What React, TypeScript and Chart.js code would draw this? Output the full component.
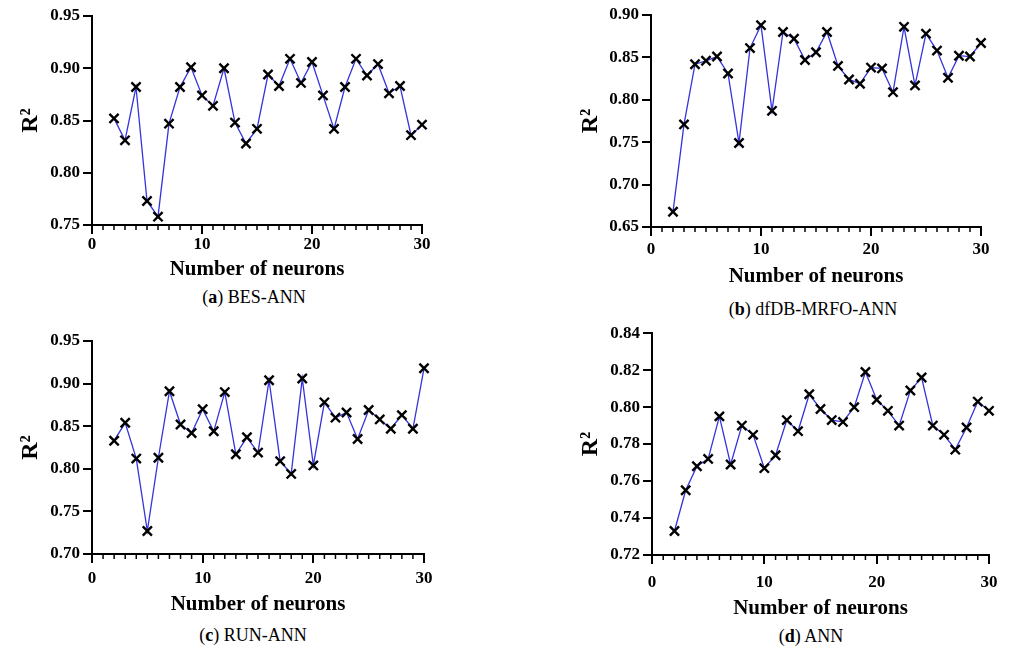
import React, { useEffect, useRef } from "react";
import { Chart, registerables } from "chart.js";

Chart.register(...registerables);

// ---------- data ----------
const neurons = [2, 3, 4, 5, 6, 7, 8, 9, 10, 11, 12, 13, 14, 15, 16, 17, 18, 19, 20, 21, 22, 23, 24, 25, 26, 27, 28, 29, 30];

const besAnnR2 = [0.852, 0.831, 0.882, 0.773, 0.758, 0.847, 0.882, 0.901, 0.874, 0.864, 0.900, 0.848, 0.828, 0.842, 0.894, 0.883, 0.909, 0.886, 0.906, 0.874, 0.842, 0.882, 0.909, 0.893, 0.904, 0.876, 0.883, 0.836, 0.846];
const dfdbMrfoAnnR2 = [0.668, 0.771, 0.842, 0.846, 0.851, 0.831, 0.749, 0.861, 0.888, 0.787, 0.880, 0.872, 0.847, 0.856, 0.880, 0.840, 0.824, 0.819, 0.838, 0.837, 0.809, 0.886, 0.817, 0.878, 0.858, 0.826, 0.852, 0.851, 0.867];
const runAnnR2 = [0.833, 0.854, 0.812, 0.727, 0.813, 0.891, 0.852, 0.842, 0.870, 0.844, 0.890, 0.817, 0.837, 0.819, 0.904, 0.809, 0.794, 0.906, 0.804, 0.878, 0.860, 0.866, 0.835, 0.869, 0.858, 0.847, 0.863, 0.847, 0.918];
const annR2 = [0.733, 0.755, 0.768, 0.772, 0.795, 0.769, 0.790, 0.785, 0.767, 0.774, 0.793, 0.787, 0.807, 0.799, 0.793, 0.792, 0.800, 0.819, 0.804, 0.798, 0.790, 0.809, 0.816, 0.790, 0.785, 0.777, 0.789, 0.803, 0.798];

const xTicks = [0, 10, 20, 30];
const minorStep = 1;
const besAnnYTicks = [0.75, 0.8, 0.85, 0.9, 0.95];
const dfdbYTicks = [0.65, 0.7, 0.75, 0.8, 0.85, 0.9];
const runYTicks = [0.7, 0.75, 0.8, 0.85, 0.9, 0.95];
const annYTicks = [0.72, 0.74, 0.76, 0.78, 0.8, 0.82, 0.84];

const xTitle = "Number of neurons";
const yTitle = "R²";

// ---------- layout ----------
const SERIF = "'Liberation Serif', 'Times New Roman', Times, serif";
const LINE_BLUE = "#3333dd";

type Area = { l: number; t: number; r: number; b: number };
type Panel = {
  letter: string;
  name: string;
  values: number[];
  yTicks: number[];
  canvasLeft: number;
  canvasTop: number;
  area: Area;
  labelPad: number;
  axisH: number;
  captionX: number;
  captionY: number;
};

const RIGHT_PAD = 20;

const panels: Panel[] = [
  { letter: "a", name: "BES-ANN", values: besAnnR2, yTicks: besAnnYTicks, canvasLeft: 0, canvasTop: 0, area: { l: 92, t: 16, r: 422, b: 225 }, labelPad: 0, axisH: 61, captionX: 254, captionY: 297 },
  { letter: "b", name: "dfDB-MRFO-ANN", values: dfdbMrfoAnnR2, yTicks: dfdbYTicks, canvasLeft: 560, canvasTop: 0, area: { l: 651, t: 15, r: 981, b: 227 }, labelPad: 3, axisH: 66, captionX: 813, captionY: 309 },
  { letter: "c", name: "RUN-ANN", values: runAnnR2, yTicks: runYTicks, canvasLeft: 0, canvasTop: 320, area: { l: 92, t: 341, r: 424, b: 554 }, labelPad: 5, axisH: 67, captionX: 253, captionY: 635 },
  { letter: "d", name: "ANN", values: annR2, yTicks: annYTicks, canvasLeft: 560, canvasTop: 320, area: { l: 652, t: 332, r: 989, b: 555 }, labelPad: 8, axisH: 70, captionX: 811, captionY: 636 },
];

const minorTicksPlugin = {
  id: "minorTicks",
  afterDraw(chart: any) {
    const xs = chart.scales.x;
    const ctx = chart.ctx;
    const y0 = chart.chartArea.bottom;
    ctx.save();
    ctx.strokeStyle = "#000";
    ctx.lineWidth = 1.5;
    for (let v = xs.min; v <= xs.max; v += minorStep) {
      if (xTicks.includes(v)) continue;
      const px = xs.getPixelForValue(v);
      ctx.beginPath();
      ctx.moveTo(px, y0);
      ctx.lineTo(px, y0 + 5);
      ctx.stroke();
    }
    ctx.restore();
  },
};

function PanelChart({ p }: { p: Panel }) {
  const ref = useRef<HTMLCanvasElement | null>(null);
  const width = p.area.r + RIGHT_PAD - p.canvasLeft;
  const height = p.area.b + p.axisH - p.canvasTop;

  useEffect(() => {
    if (!ref.current) return;
    const yMin = p.yTicks[0];
    const yMax = p.yTicks[p.yTicks.length - 1];
    const yStep = p.yTicks[1] - p.yTicks[0];
    const yAxisW = p.area.l - p.canvasLeft;
    const chart = new Chart(ref.current, {
      type: "line",
      data: {
        datasets: [
          {
            data: neurons.map((n, i) => ({ x: n, y: p.values[i] })),
            borderColor: LINE_BLUE,
            borderWidth: 1.3,
            tension: 0,
            pointStyle: "crossRot",
            pointRadius: 6.5,
            pointBorderColor: "#000",
            pointBackgroundColor: "#000",
            pointBorderWidth: 2.4,
            clip: false as any,
          },
        ],
      },
      options: {
        animation: false,
        responsive: false,
        devicePixelRatio: 1,
        layout: { padding: { left: 0, top: p.area.t - p.canvasTop, right: RIGHT_PAD, bottom: 0 } },
        plugins: { legend: { display: false }, tooltip: { enabled: false } },
        scales: {
          x: {
            type: "linear",
            min: xTicks[0],
            max: xTicks[xTicks.length - 1],
            ticks: {
              stepSize: xTicks[1] - xTicks[0],
              color: "#000",
              font: { family: SERIF, size: 17, weight: "bold" },
              padding: p.labelPad,
              maxRotation: 0,
              autoSkip: false,
            },
            grid: { drawOnChartArea: false, drawTicks: true, tickLength: 9, color: "#000", lineWidth: 2 },
            border: { display: true, color: "#000", width: 2 },
            title: { display: true, text: xTitle, color: "#000", font: { family: SERIF, size: 21, weight: "bold" }, padding: { top: 0, bottom: 4 } },
            afterFit: (s: any) => { s.height = p.axisH; },
          },
          y: {
            type: "linear",
            min: yMin,
            max: yMax,
            ticks: {
              stepSize: yStep,
              color: "#000",
              font: { family: SERIF, size: 17, weight: "bold" },
              padding: 3,
              callback: (v: any) => Number(v).toFixed(2),
            },
            grid: { drawOnChartArea: false, drawTicks: true, tickLength: 9, color: "#000", lineWidth: 2 },
            border: { display: true, color: "#000", width: 2 },
            title: { display: true, text: yTitle, color: "#000", font: { family: SERIF, size: 24, weight: "bold" }, padding: { top: 16, bottom: 0 } },
            afterFit: (s: any) => { s.width = yAxisW; },
          },
        },
      },
      plugins: [minorTicksPlugin],
    } as any);
    return () => chart.destroy();
  }, [p]);

  return (
    <canvas
      ref={ref}
      width={width}
      height={height}
      style={{ position: "absolute", left: p.canvasLeft, top: p.canvasTop, width, height }}
    />
  );
}

export default function App() {
  return (
    <div style={{ position: "absolute", left: 0, top: 0, width: 1012, height: 653, background: "#fff", overflow: "hidden" }}>
      {panels.map((p) => (
        <React.Fragment key={p.letter}>
          <PanelChart p={p} />
          <div
            style={{
              position: "absolute",
              left: p.captionX - 150,
              top: p.captionY - 11,
              width: 300,
              textAlign: "center",
              fontFamily: SERIF,
              fontSize: 18,
              lineHeight: "22px",
              color: "#000",
              whiteSpace: "nowrap",
            }}
          >
            (<b>{p.letter}</b>) {p.name}
          </div>
        </React.Fragment>
      ))}
    </div>
  );
}
